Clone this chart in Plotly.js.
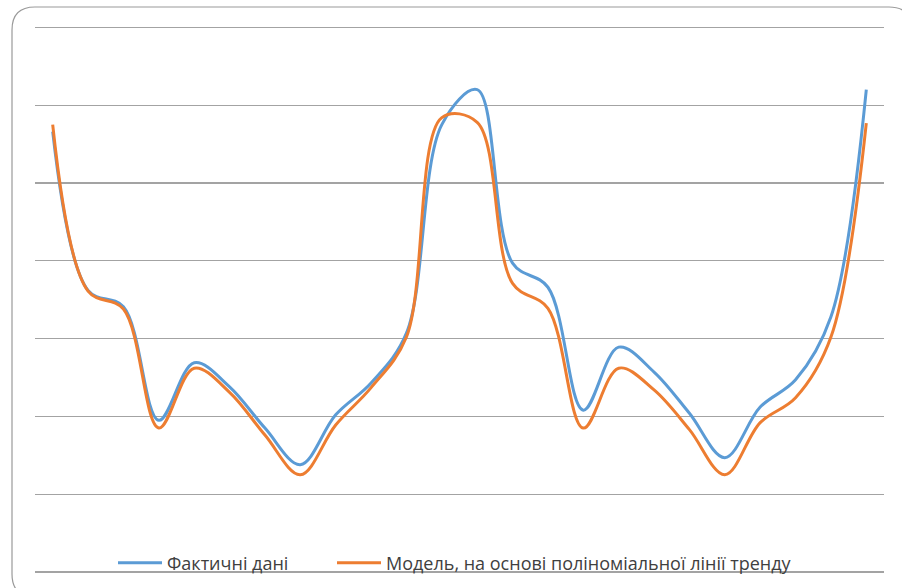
<!DOCTYPE html>
<html>
<head>
<meta charset="utf-8">
<script src="https://cdn.plot.ly/plotly-3.0.1.min.js"></script>
<style>html,body{margin:0;padding:0;background:#fff;overflow:hidden;}#chart{width:902px;height:588px;}</style>
</head>
<body>
<div id="chart"></div>
<script>
// Categories: 24 consecutive periods
const periods = ["1","2","3","4","5","6","7","8","9","10","11","12","13","14","15","16","17","18","19","20","21","22","23","24"];
// Actual data ("Фактичні дані")
const actual = [56.6,36.2,34.1,19.5,26.9,23.8,18.5,13.8,20.2,24.3,30.7,57.5,62.0,39.7,36.6,20.8,28.9,25.7,20.4,14.7,21.2,24.7,32.8,62.0];
// Model based on polynomial trend line
const model = [57.5,36.1,33.8,18.5,26.2,23.1,17.6,12.5,18.9,23.7,30.2,58.4,57.8,37.1,33.9,18.5,26.2,23.4,18.3,12.5,19.2,22.4,30.2,57.7];
const seriesNames = ["Фактичні дані","Модель, на основі поліноміальної лінії тренду"];
const yTop = 70;

const W = 902, H = 588;
const L = 35, R = 18, T = 27, B = 0;
const pw = W - L - R, ph = H - T - B;
const px = v => (v - L) / pw;
const py = v => (H - B - v) / ph;

// rounded frame path in paper coords
const fx0 = 12, fy0 = 7, fx1 = 912, fy1 = 597, rr = 23;
const pathPts = [
  `M ${px(fx0)},${py(fy0+rr)}`,
  `Q ${px(fx0)},${py(fy0)} ${px(fx0+rr)},${py(fy0)}`,
  `L ${px(fx1-rr)},${py(fy0)}`,
  `Q ${px(fx1)},${py(fy0)} ${px(fx1)},${py(fy0+rr)}`,
  `L ${px(fx1)},${py(fy1-rr)}`,
  `Q ${px(fx1)},${py(fy1)} ${px(fx1-rr)},${py(fy1)}`,
  `L ${px(fx0+rr)},${py(fy1)}`,
  `Q ${px(fx0)},${py(fy1)} ${px(fx0)},${py(fy1-rr)}`,
  `Z`
].join(' ');

const traces = [
  {x: periods, y: actual, name: seriesNames[0], type: 'scatter', mode: 'lines', legend: 'legend',
   line: {color: '#5b9bd5', width: 3, shape: 'spline', smoothing: 1}},
  {x: periods, y: model, name: seriesNames[1], type: 'scatter', mode: 'lines', legend: 'legend2',
   line: {color: '#ed7d31', width: 3, shape: 'spline', smoothing: 1}}
];

const legendFont = {family: 'Open Sans, Noto Sans, sans-serif', size: 18, color: '#404040'};

const layout = {
  width: W, height: H,
  margin: {l: L, r: R, t: T, b: B, pad: 0},
  paper_bgcolor: '#ffffff', plot_bgcolor: '#ffffff',
  showlegend: true,
  legend: {orientation: 'h', x: px(113), xanchor: 'left', y: py(563), yanchor: 'middle',
    itemwidth: 44, font: legendFont, bgcolor: 'rgba(0,0,0,0)'},
  legend2: {orientation: 'h', x: px(332), xanchor: 'left', y: py(563), yanchor: 'middle',
    itemwidth: 44, font: legendFont, bgcolor: 'rgba(0,0,0,0)'},
  xaxis: {type: 'category', range: [-0.5, 23.5], showgrid: false, showline: false, zeroline: false,
    showticklabels: false, ticks: ''},
  yaxis: {range: [-2.055, 70.05], tick0: 0, dtick: 10, showgrid: true, gridcolor: '#a3a3a3', gridwidth: 1.2,
    zeroline: true, zerolinecolor: '#a3a3a3', zerolinewidth: 1.2, showline: false,
    showticklabels: false, ticks: ''},
  shapes: [
    {type: 'path', xref: 'paper', yref: 'paper', path: pathPts,
     line: {color: '#9a9a9a', width: 1.2}, fillcolor: 'rgba(0,0,0,0)', layer: 'below'},
    {type: 'line', xref: 'paper', yref: 'y', x0: 0, x1: 1, y0: yTop, y1: yTop,
     line: {color: '#a3a3a3', width: 1.2}, layer: 'below'}
  ]
};

Plotly.newPlot('chart', traces, layout, {displayModeBar: false, staticPlot: true});
</script>
</body>
</html>
